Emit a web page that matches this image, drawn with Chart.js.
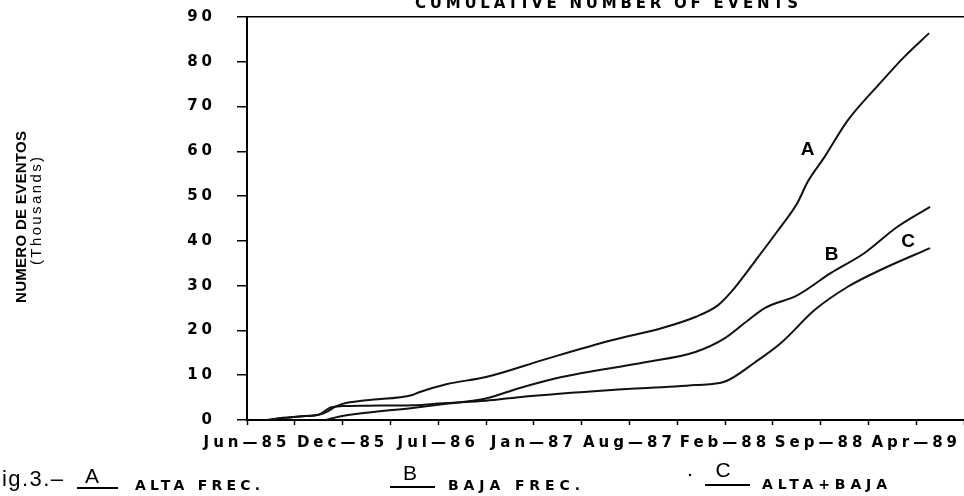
<!DOCTYPE html>
<html>
<head>
<meta charset="utf-8">
<script src="https://cdn.jsdelivr.net/npm/chart.js@4.4.0/dist/chart.umd.min.js"></script>
<style>
  html, body { margin: 0; padding: 0; background: #fff; }
  #wrap { position: relative; width: 964px; height: 496px; }
</style>
</head>
<body>
<div id="wrap"><canvas id="chart"></canvas></div>
<script>
// x = days counted from 1 Jun 1985, one tick every 100 days, a label every 200
const tickLabels = ["Jun—85", "Dec—85", "Jul—86", "Jan—87", "Aug—87", "Feb—88", "Sep—88", "Apr—89"];

// A: alta frecuencia (thousands of events)
const daysA = [42, 75, 110, 152, 170, 185, 200, 250, 346, 360, 417, 500, 625, 763, 867, 938, 985, 1013, 1063, 1110, 1152, 1173, 1208, 1256, 1325, 1375, 1427];
const valuesA = [0, 0.4, 0.8, 1.2, 2.0, 3.0, 3.6, 4.4, 5.6, 6.2, 8.0, 9.6, 13.6, 17.8, 20.5, 23.0, 25.6, 28.6, 35.5, 42.2, 48.6, 53.2, 58.7, 66.8, 75.3, 81.1, 86.4];

// B: baja frecuencia
const daysB = [165, 194, 250, 346, 417, 500, 569, 658, 833, 938, 1000, 1045, 1083, 1152, 1221, 1292, 1360, 1429];
const valuesB = [0, 0.8, 1.6, 2.7, 3.6, 4.8, 7.1, 9.6, 12.9, 15.2, 18.3, 22.0, 25.0, 27.9, 32.8, 37.3, 43.1, 47.6];

// C: alta + baja
const daysC = [42, 75, 110, 152, 175, 200, 250, 346, 417, 500, 569, 763, 938, 1000, 1063, 1117, 1188, 1256, 1325, 1429];
const valuesC = [0, 0.5, 0.8, 1.3, 2.8, 3.1, 3.2, 3.3, 3.8, 4.3, 5.1, 6.7, 7.8, 8.6, 12.9, 17.2, 24.6, 29.7, 33.5, 38.4];

// letters written next to the curves (day, value)
const curveNames = ["A", "B", "C"];
const curveNameDays = [1173, 1223, 1383];
const curveNameValues = [60.3, 36.8, 39.7];

const chartTitle = "CUMULATIVE NUMBER OF EVENTS";
const yTitle = ["NUMERO DE EVENTOS", "(Thousands)"];
const figLabel = "Fig.3.–";
const legendKeys = ["A", "B", "C"];
const legendTexts = ["ALTA FREC.", "BAJA FREC.", "ALTA+BAJA"];

const wide = "'DejaVu Sans', sans-serif";
const plain = "'Liberation Sans', Arial, sans-serif";
const narrow = "'Liberation Sans Narrow', 'Liberation Sans', sans-serif";
const tickSpacing = 4;

function toPoints(days, values) {
	return days.map((d, i) => ({ x: d, y: values[i] }));
}

// draws text stretched by letter spacing to a given width
function spaced(ctx, text, x, y, width, font) {
	ctx.font = font;
	ctx.letterSpacing = "0px";
	const w = ctx.measureText(text).width;
	const sp = text.length > 1 ? Math.max(-1, (width - w) / (text.length - 1)) : 0;
	ctx.letterSpacing = sp + "px";
	ctx.textAlign = "left";
	ctx.fillText(text, x, y);
}

const figureText = {
	id: "figureText",
	beforeDraw(chart) {
		chart.ctx.letterSpacing = tickSpacing + "px";
	},
	afterDraw(chart) {
		const ctx = chart.ctx;
		const xs = chart.scales.x;
		const ys = chart.scales.y;
		ctx.save();
		ctx.fillStyle = "#000";
		ctx.strokeStyle = "#000";
		ctx.textBaseline = "alphabetic";

		spaced(ctx, chartTitle, 415, 8, 383, "bold 15px " + wide);

		// y axis title, rotated
		ctx.save();
		ctx.translate(26, 303);
		ctx.rotate(-Math.PI / 2);
		spaced(ctx, yTitle[0], 0, 0, 172, "bold 15px " + narrow);
		ctx.restore();
		ctx.save();
		ctx.translate(41, 265);
		ctx.rotate(-Math.PI / 2);
		spaced(ctx, yTitle[1], 0, 0, 108, "15px " + narrow);
		ctx.restore();

		// curve letters
		ctx.letterSpacing = "0px";
		ctx.font = "bold 19px " + plain;
		ctx.textAlign = "center";
		ctx.textBaseline = "middle";
		curveNames.forEach((n, i) => {
			ctx.fillText(n, xs.getPixelForValue(curveNameDays[i]), ys.getPixelForValue(curveNameValues[i]));
		});

		// figure caption
		ctx.textBaseline = "alphabetic";
		ctx.textAlign = "left";
		spaced(ctx, figLabel, -13, 486, 76, "22px " + plain);

		const keyX = [92, 410, 723];
		const keyY = [483, 480, 477];
		const lineX = [[77, 118], [390, 435], [705, 750]];
		const lineY = [488, 487, 485];
		const textX = [[135, 260], [448, 580], [762, 887]];
		const textY = [490, 490, 489];
		ctx.lineWidth = 2;
		legendKeys.forEach((k, i) => {
			ctx.letterSpacing = "0px";
			ctx.font = "21px " + plain;
			ctx.textAlign = "center";
			ctx.fillText(k, keyX[i], keyY[i]);
			ctx.beginPath();
			ctx.moveTo(lineX[i][0], lineY[i]);
			ctx.lineTo(lineX[i][1], lineY[i]);
			ctx.stroke();
			spaced(ctx, legendTexts[i], textX[i][0], textY[i], textX[i][1] - textX[i][0], "bold 14px " + wide);
		});
		ctx.beginPath();
		ctx.arc(690, 475, 1.2, 0, Math.PI * 2);
		ctx.fill();
		ctx.restore();
	},
};

const lineStyle = {
	borderColor: "#111",
	borderWidth: 2,
	pointRadius: 0,
	fill: false,
	cubicInterpolationMode: "monotone",
};

const ctx = document.getElementById("chart");
const chart = new Chart(ctx, {
	type: "line",
	data: {
		datasets: [
			{ label: "A", data: toPoints(daysA, valuesA), ...lineStyle },
			{ label: "B", data: toPoints(daysB, valuesB), ...lineStyle },
			{ label: "C", data: toPoints(daysC, valuesC), ...lineStyle },
		],
	},
	options: {
		responsive: true,
		maintainAspectRatio: false,
		animation: false,
		layout: { padding: { top: 17, left: 0, right: 0, bottom: 0 } },
		plugins: { legend: { display: false }, tooltip: { enabled: false } },
		scales: {
			x: {
				type: "linear",
				min: 0,
				max: 1500,
				border: { color: "#000", width: 2 },
				grid: { drawOnChartArea: false, tickLength: 5, tickColor: "#000", tickWidth: 1.5 },
				ticks: {
					stepSize: 100,
					includeBounds: false,
					autoSkip: false,
					maxRotation: 0,
					padding: 9,
					color: "#000",
					font: { family: wide, size: 15, weight: "bold" },
					callback: (v) => {
						const d = Math.round(v);
						return d % 200 === 0 && d < 1500 ? tickLabels[d / 200] : "";
					},
				},
				afterFit: (s) => {
					s.height = 76;
					s.paddingLeft = 0;
					s.paddingRight = 0;
				},
			},
			y: {
				min: 0,
				max: 90,
				border: { color: "#000", width: 2 },
				grid: {
					color: (c) => (c.tick && c.tick.value === 90 ? "#000" : "rgba(0,0,0,0)"),
					lineWidth: 1.5,
					tickLength: 10,
					tickColor: "#000",
					tickWidth: 1.5,
				},
				ticks: {
					stepSize: 10,
					padding: 21,
					color: "#000",
					font: { family: wide, size: 15, weight: "bold" },
				},
				afterFit: (s) => {
					s.width = 247;
					s.paddingTop = 0;
					s.paddingBottom = 0;
				},
			},
		},
	},
	plugins: [figureText],
});
</script>
</body>
</html>
